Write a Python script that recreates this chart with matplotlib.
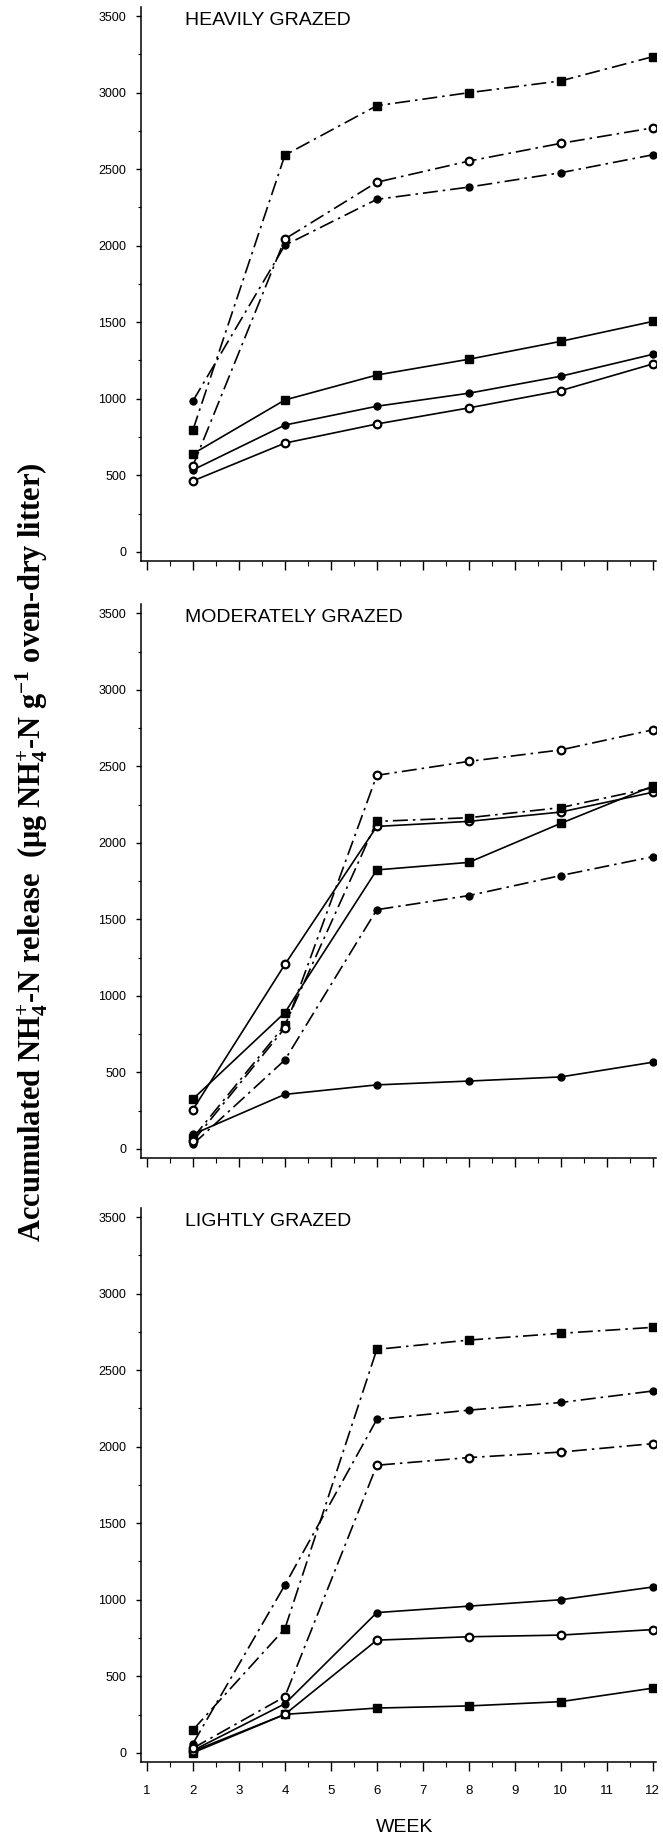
import matplotlib
matplotlib.use("Agg")
import matplotlib.pyplot as plt
from matplotlib.ticker import MultipleLocator

plt.rcParams['font.family'] = ['Liberation Sans', 'DejaVu Sans']
plt.rcParams['mathtext.fontset'] = 'custom'
plt.rcParams['mathtext.rm'] = 'Liberation Serif:bold'
plt.rcParams['mathtext.it'] = 'Liberation Serif:bold:italic'
plt.rcParams['mathtext.bf'] = 'Liberation Serif:bold'

weeks = [2, 4, 6, 8, 10, 12]
x_tick_labels = ['1', '2', '3', '4', '5', '6', '7', '8', '9', '10', '11', '12']
y_ticks = [0, 500, 1000, 1500, 2000, 2500, 3000, 3500]
panel_titles = ['HEAVILY GRAZED', 'MODERATELY GRAZED', 'LIGHTLY GRAZED']

# heavily grazed
heavy_solid_square = [640, 992, 1155, 1258, 1375, 1505]
heavy_solid_filled = [535, 828, 951, 1036, 1147, 1290]
heavy_solid_open = [463, 710, 835, 940, 1053, 1227]
heavy_dash_square = [797, 2592, 2915, 3000, 3077, 3235]
heavy_dash_filled = [986, 2003, 2303, 2383, 2477, 2594]
heavy_dash_open = [562, 2044, 2415, 2553, 2669, 2770]

# moderately grazed
mod_solid_square = [326, 890, 1823, 1872, 2127, 2370]
mod_solid_filled = [95, 356, 418, 443, 470, 566]
mod_solid_open = [257, 1205, 2107, 2140, 2201, 2330]
mod_dash_square = [72, 809, 2140, 2164, 2230, 2360]
mod_dash_filled = [30, 581, 1563, 1655, 1786, 1909]
mod_dash_open = [50, 790, 2441, 2532, 2607, 2738]

# lightly grazed
light_solid_square = [0, 251, 292, 306, 334, 422]
light_solid_filled = [15, 320, 916, 958, 1000, 1083]
light_solid_open = [10, 251, 736, 758, 769, 805]
light_dash_square = [150, 811, 2636, 2697, 2741, 2780]
light_dash_filled = [60, 1096, 2178, 2239, 2289, 2364]
light_dash_open = [30, 367, 1879, 1929, 1965, 2020]

panels = [
    [heavy_solid_square, heavy_solid_filled, heavy_solid_open,
     heavy_dash_square, heavy_dash_filled, heavy_dash_open],
    [mod_solid_square, mod_solid_filled, mod_solid_open,
     mod_dash_square, mod_dash_filled, mod_dash_open],
    [light_solid_square, light_solid_filled, light_solid_open,
     light_dash_square, light_dash_filled, light_dash_open],
]

dashdot = (0, (9, 3, 1.5, 3))
styles = [
    dict(ls='-', marker='s', mfc='black', ms=5.5),
    dict(ls='-', marker='o', mfc='black', ms=5),
    dict(ls='-', marker='o', mfc='white', ms=5.5, mew=1.6),
    dict(ls=dashdot, marker='s', mfc='black', ms=5.5),
    dict(ls=dashdot, marker='o', mfc='black', ms=5),
    dict(ls=dashdot, marker='o', mfc='white', ms=5.5, mew=1.6),
]

fig = plt.figure(figsize=(6.63, 18.44), dpi=100)
left, width = 0.2127, 0.7765
bottoms = [0.6958, 0.3720, 0.0445]
height = 0.3004

for i, series in enumerate(panels):
    ax = fig.add_axes([left, bottoms[i], width, height])
    for values, st in zip(series, styles):
        ax.plot(weeks, values, color='black', lw=1.2, mec='black', zorder=3, **st)
    ax.set_xlim(0.87, 12.07)
    ax.set_ylim(-60, 3560)
    ax.set_yticks(y_ticks)
    ax.yaxis.set_minor_locator(MultipleLocator(250))
    ax.set_xticks(range(1, 13))
    ax.xaxis.set_minor_locator(MultipleLocator(0.5))
    if i == 2:
        ax.set_xticklabels(x_tick_labels)
    else:
        ax.set_xticklabels([])
    ax.spines['top'].set_visible(False)
    ax.spines['right'].set_visible(False)
    ax.spines['left'].set_linewidth(1.1)
    ax.spines['bottom'].set_linewidth(1.1)
    ax.tick_params(axis='y', which='major', length=3.6, width=1, labelsize=9, pad=7)
    ax.tick_params(axis='y', which='minor', length=2, width=0.8)
    ax.tick_params(axis='x', which='major', length=6.5, width=1, labelsize=9.5, pad=10)
    ax.tick_params(axis='x', which='minor', length=3.5, width=0.8)
    ax.text(0.085, 0.975, panel_titles[i], transform=ax.transAxes,
            fontsize=14, ha='left', va='center')

fig.text(0.048, 0.538,
         'Accumulated NH$_4^{+}$-N release  (μg NH$_4^{+}$-N g$^{-1}$ oven-dry litter)',
         rotation=90, ha='center', va='center', fontsize=22,
         family='Liberation Serif', fontweight='bold')
fig.text(0.611, 0.0087, 'WEEK', ha='center', va='center', fontsize=14)

fig.savefig('out.png', dpi=100, facecolor='white')
